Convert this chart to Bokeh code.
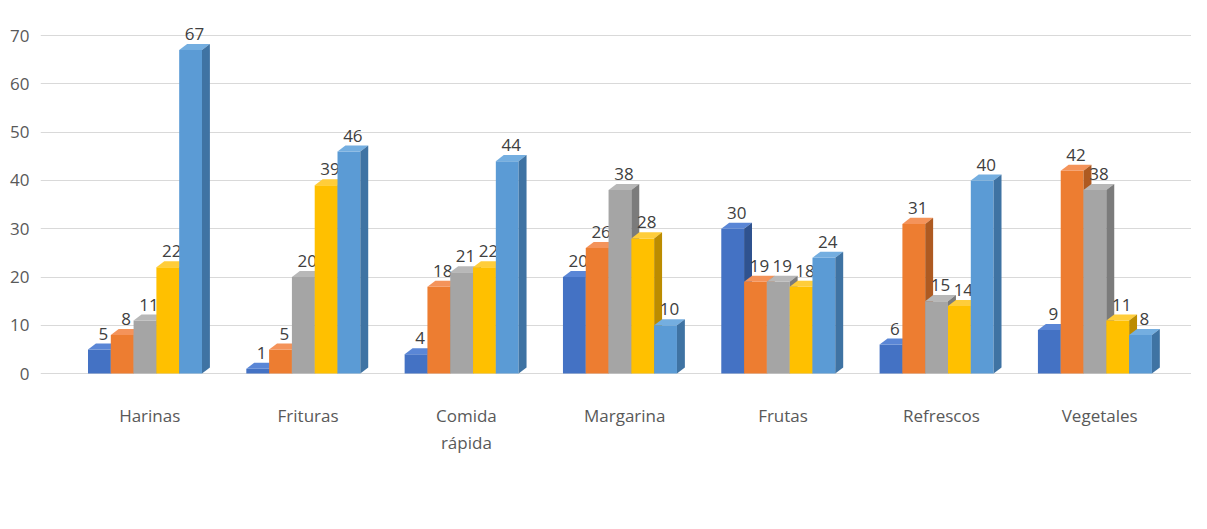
from bokeh.plotting import figure
from bokeh.models import Range1d, FixedTicker, Legend, LegendItem
from bokeh.embed import file_html
from bokeh.resources import INLINE
from bokeh.core.properties import value

categories = ["Harinas", "Frituras", "Comida\nrápida", "Margarina", "Frutas", "Refrescos", "Vegetales"]
series = ["Puntaje 0", "Puntaje 1", "Puntaje 2", "Puntaje 3", "Puntaje 4"]
values = [
    [5, 1, 4, 20, 30, 6, 9],
    [8, 5, 18, 26, 19, 31, 42],
    [11, 20, 21, 38, 19, 15, 38],
    [22, 39, 22, 28, 18, 14, 11],
    [67, 46, 44, 10, 24, 40, 8],
]
front = ["#4472C4", "#ED7D31", "#A5A5A5", "#FFC000", "#5B9BD5"]
topc = ["#5a86d6", "#f4935a", "#b8b8b8", "#ffcd3a", "#74aee0"]
side = ["#2f528f", "#ae5a21", "#7b7b7b", "#bc8c00", "#3f73a3"]

FONT = "Open Sans"
p = figure(width=1191, height=513, output_backend="svg", toolbar_location=None,
           x_range=Range1d(-0.69, 6.58), y_range=Range1d(-0.4, 75.2),
           min_border_left=40, min_border_right=0, min_border_top=10, min_border_bottom=138)
p.outline_line_color = None
p.xgrid.grid_line_color = None
p.ygrid.grid_line_color = "#d9d9d9"
p.ygrid.ticker = FixedTicker(ticks=list(range(0, 71, 10)))
p.yaxis.ticker = FixedTicker(ticks=list(range(0, 71, 10)))
p.yaxis.axis_line_color = None
p.yaxis.major_tick_line_color = None
p.yaxis.minor_tick_line_color = None
p.yaxis.major_label_text_font = FONT
p.yaxis.major_label_text_font_size = "17px"
p.yaxis.major_label_text_color = "#595959"
p.xaxis.ticker = FixedTicker(ticks=list(range(len(categories))))
p.xaxis.major_label_overrides = {i: c for i, c in enumerate(categories)}
p.xaxis.axis_line_color = None
p.xaxis.major_tick_line_color = None
p.xaxis.minor_tick_line_color = None
p.xaxis.major_label_text_font = FONT
p.xaxis.major_label_text_font_size = "17px"
p.xaxis.major_label_text_color = "#595959"
p.xaxis.major_label_standoff = 22

bw = 0.144
dx = 0.05
dy = 1.25
renderers = []
for i in range(len(categories)):
    for j in range(len(series)):
        v = values[j][i]
        x0 = i - 0.03 + (j - 2.5) * bw
        x1 = x0 + bw
        r = p.quad(left=x0, right=x1, bottom=0, top=v, fill_color=front[j], line_color=None)
        if i == 0:
            renderers.append(r)
        p.patch([x0, x1, x1 + dx, x0 + dx], [v, v, v + dy, v + dy], fill_color=topc[j], line_color=None)
        p.patch([x1, x1 + dx, x1 + dx, x1], [0, dy, v + dy, v], fill_color=side[j], line_color=None)
        p.text(x=[(x0 + x1) / 2 + dx / 2], y=[v + dy + 0.8], text=[str(v)], text_align="center",
               text_baseline="bottom", text_font=value(FONT), text_font_size="17px", text_color="#404040")

legend = Legend(items=[LegendItem(label=s, renderers=[r]) for s, r in zip(series, renderers)],
                orientation="horizontal", location=(195, -122), border_line_color=None,
                background_fill_alpha=0,
                label_text_font=FONT, label_text_font_size="17px", label_text_color="#595959",
                glyph_width=12, glyph_height=12, spacing=22, margin=0)
p.add_layout(legend, "center")

open("out.html", "w").write(file_html(p, INLINE))
